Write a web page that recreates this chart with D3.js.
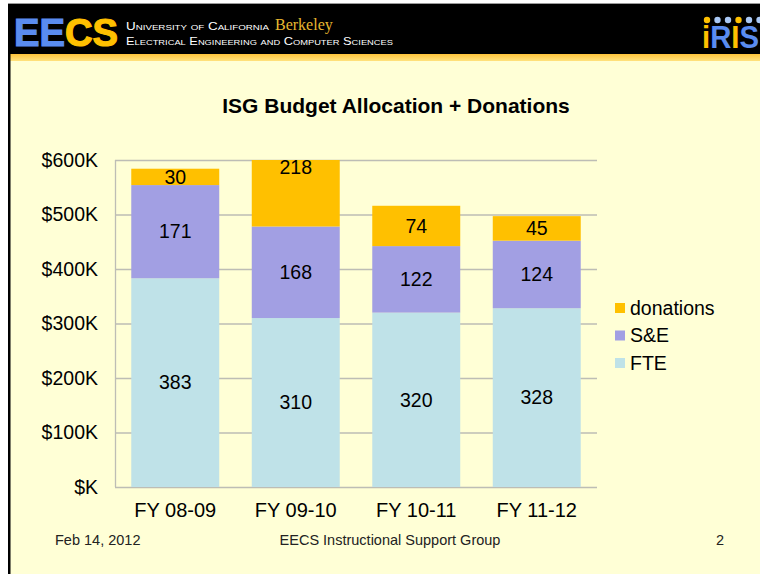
<!DOCTYPE html>
<html>
<head>
<meta charset="utf-8">
<script src="https://cdn.jsdelivr.net/npm/d3@7"></script>
<style>
  body { margin: 0; background: #fff; }
  svg { display: block; font-family: Arial, "Liberation Sans", sans-serif; }
</style>
</head>
<body>
<svg id="chart" width="760" height="574"></svg>
<script>
// Data
const years = ["FY 08-09", "FY 09-10", "FY 10-11", "FY 11-12"];
const fte = [383, 310, 320, 328];
const se = [171, 168, 122, 124];
const donations = [30, 218, 74, 45];
const seriesNames = ["FTE", "S&E", "donations"];
const seriesColors = ["#BFE2E8", "#A29FE3", "#FFC000"];
const yTicks = [0, 100, 200, 300, 400, 500, 600];

const svg = d3.select("#chart");

// Slide background + header
svg.append("rect").attr("x", 8).attr("y", 3).attr("width", 752).attr("height", 571).attr("fill", "#FFFFD6");
svg.append("rect").attr("x", 8).attr("y", 4).attr("width", 752).attr("height", 50).attr("fill", "#000");
svg.append("line").attr("x1", 8).attr("x2", 760).attr("y1", 3.5).attr("y2", 3.5).attr("stroke", "#9a9a9a");
const grad = svg.append("defs").append("linearGradient").attr("id", "gold").attr("x1", 0).attr("x2", 0).attr("y1", 0).attr("y2", 1);
grad.append("stop").attr("offset", "0%").attr("stop-color", "#FFC43A");
grad.append("stop").attr("offset", "100%").attr("stop-color", "#FFE27E");
svg.append("rect").attr("x", 8).attr("y", 54).attr("width", 752).attr("height", 7).attr("fill", "url(#gold)");
svg.append("rect").attr("x", 8).attr("y", 4).attr("width", 2.5).attr("height", 570).attr("fill", "#000");

// EECS logo
const logo = svg.append("text").attr("x", 14).attr("y", 46)
  .attr("font-size", 38).attr("font-weight", 900)
  .attr("textLength", 104).attr("lengthAdjust", "spacingAndGlyphs")
  .attr("stroke-width", 1.2);
logo.append("tspan").attr("fill", "#5A8CF0").attr("stroke", "#5A8CF0").text("EE");
logo.append("tspan").attr("fill", "#FFC000").attr("stroke", "#FFC000").text("CS");

const hdr1 = svg.append("text").attr("x", 126).attr("y", 30).attr("font-size", 11)
  .attr("fill", "#fff").style("font-variant", "small-caps");
hdr1.append("tspan").attr("textLength", 143).attr("lengthAdjust", "spacingAndGlyphs").text("University of California");
hdr1.append("tspan").attr("x", 275).attr("font-family", "'Liberation Serif', 'DejaVu Serif', serif")
  .attr("font-size", 16).attr("fill", "#E8B830").style("font-variant", "normal").text("Berkeley");
svg.append("text").attr("x", 126).attr("y", 45).attr("font-size", 11)
  .attr("fill", "#fff").style("font-variant", "small-caps")
  .attr("textLength", 267).attr("lengthAdjust", "spacingAndGlyphs")
  .text("Electrical Engineering and Computer Sciences");

// iRIS logo
const dotColors = ["#FFC000", "#A9C8F5", "#A9C8F5", "#FFC000", "#A9C8F5", "#A9C8F5"];
svg.selectAll(".irisdot").data(dotColors).join("circle")
  .attr("cx", (d, i) => 707 + i * 10.5).attr("cy", 20).attr("r", 3.2).attr("fill", (d) => d);
const iris = svg.append("text").attr("x", 702).attr("y", 48).attr("font-size", 31).attr("font-weight", "bold")
  .attr("textLength", 57).attr("lengthAdjust", "spacingAndGlyphs");
iris.append("tspan").attr("fill", "#FFC000").text("i");
iris.append("tspan").attr("fill", "#5A8CF0").text("R");
iris.append("tspan").attr("fill", "#FFC000").text("I");
iris.append("tspan").attr("fill", "#5A8CF0").text("S");

// Title
svg.append("text").attr("x", 396).attr("y", 113).attr("text-anchor", "middle")
  .attr("font-size", 21).attr("font-weight", "bold").attr("fill", "#000")
  .text("ISG Budget Allocation + Donations");

// Scales
const plot = { left: 115, right: 597, top: 160, bottom: 487 };
const x = d3.scaleBand().domain(years).range([plot.left, plot.right]).paddingInner(0.27).paddingOuter(0.135);
const y = d3.scaleLinear().domain([0, 600]).range([plot.bottom, plot.top]);

// Gridlines
svg.append("g").selectAll("line").data(yTicks).join("line")
  .attr("x1", plot.left).attr("x2", plot.right)
  .attr("y1", (d) => y(d) + 0.5).attr("y2", (d) => y(d) + 0.5)
  .attr("stroke", "#BDBDB5").attr("stroke-width", 1.3);
svg.append("line").attr("x1", plot.left + 0.5).attr("x2", plot.left + 0.5)
  .attr("y1", plot.top).attr("y2", plot.bottom)
  .attr("stroke", "#BDBDB5").attr("stroke-width", 1.3);

// Stack
const rows = years.map((yr, i) => ({ year: yr, "FTE": fte[i], "S&E": se[i], "donations": donations[i] }));
const stacked = d3.stack().keys(seriesNames)(rows);

svg.append("defs").append("clipPath").attr("id", "plotclip")
  .append("rect").attr("x", plot.left).attr("y", plot.top)
  .attr("width", plot.right - plot.left).attr("height", plot.bottom - plot.top);

const layers = svg.append("g").attr("clip-path", "url(#plotclip)")
  .selectAll("g").data(stacked).join("g")
  .attr("fill", (d, i) => seriesColors[i]);
layers.selectAll("rect").data((d) => d).join("rect")
  .attr("x", (d) => x(d.data.year))
  .attr("width", x.bandwidth())
  .attr("y", (d) => y(d[1]))
  .attr("height", (d) => y(d[0]) - y(d[1]));

// Data labels (centered on full segment, like Excel)
const labels = svg.append("g").attr("font-size", 19.5).attr("fill", "#000").attr("text-anchor", "middle");
stacked.forEach((layer) => {
  labels.selectAll(null).data(layer).join("text")
    .attr("x", (d) => x(d.data.year) + x.bandwidth() / 2)
    .attr("y", (d) => y((d[0] + d[1]) / 2))
    .attr("dy", "0.35em")
    .text((d) => d[1] - d[0]);
});

// Axes
const yAxis = d3.axisLeft(y).tickValues(yTicks).tickSize(0).tickPadding(17)
  .tickFormat((d) => "$" + (d === 0 ? "" : d) + "K");
const gy = svg.append("g").attr("transform", `translate(${plot.left},0)`).call(yAxis);
gy.select(".domain").remove();
gy.selectAll("text").attr("font-size", 19.5).attr("fill", "#000").attr("font-family", "Arial, 'Liberation Sans', sans-serif");

const xAxis = d3.axisBottom(x).tickSize(0).tickPadding(16);
const gx = svg.append("g").attr("transform", `translate(0,${plot.bottom})`).call(xAxis);
gx.select(".domain").remove();
gx.selectAll("text").attr("font-size", 20).attr("fill", "#000").attr("font-family", "Arial, 'Liberation Sans', sans-serif");

// Legend
const legendItems = seriesNames.slice().reverse();
const legend = svg.append("g").attr("transform", "translate(615,303)");
const li = legend.selectAll("g").data(legendItems).join("g")
  .attr("transform", (d, i) => `translate(0,${i * 27.5})`);
li.append("rect").attr("width", 10).attr("height", 10)
  .attr("fill", (d) => seriesColors[seriesNames.indexOf(d)]);
li.append("text").attr("x", 15).attr("y", 5).attr("dy", "0.35em")
  .attr("font-size", 19.5).attr("fill", "#000").text((d) => d);

// Footer
const foot = svg.append("g").attr("font-size", 14.5).attr("fill", "#222");
foot.append("text").attr("x", 55).attr("y", 545).text("Feb 14, 2012");
foot.append("text").attr("x", 390).attr("y", 545).attr("text-anchor", "middle").text("EECS Instructional Support Group");
foot.append("text").attr("x", 724).attr("y", 545).attr("text-anchor", "end").text("2");
</script>
</body>
</html>
